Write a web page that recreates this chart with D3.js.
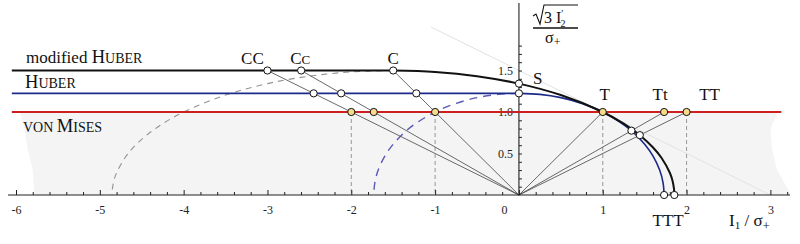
<!DOCTYPE html>
<html>
<head>
<meta charset="utf-8">
<script src="https://cdn.jsdelivr.net/npm/d3@7"></script>
<style>
  body { margin: 0; background: #fff; }
  svg { display: block; font-family: "Liberation Serif", "DejaVu Serif", serif; }
</style>
</head>
<body>
<div class="container"></div>
<script>
// ---- data ----
const xTickLabels = [-6, -5, -4, -3, -2, -1, 0, 1, 2, 3];
const yTickLabels = [0.5, 1.0, 1.5];

// horizontal criteria levels, sqrt(3 I2')/sigma+
const vonMisesLevel = 1.0;
const huberLevel = 1.2247;
const modHuberLevel = 1.5;

// tension branches (I1 > 0 side)
const modHuberCurve = [
  [-1.5, 1.5], [-1.0, 1.483], [-0.5, 1.432], [0, 1.342], [0.5, 1.204], [1.0, 1.0],
  [1.25, 0.859], [1.442, 0.721], [1.6, 0.573], [1.7, 0.449], [1.8, 0.268],
  [1.83, 0.18], [1.85, 0.074], [1.854, 0]
];
const huberCurve = [
  [0, 1.2247], [0.25, 1.212], [0.5, 1.173], [0.75, 1.104], [1.0, 1.0], [1.2, 0.883],
  [1.342, 0.775], [1.5, 0.612], [1.6, 0.469], [1.68, 0.298], [1.72, 0.144], [1.732, 0]
];

// rays from the origin: end points on the modified Huber line / von Mises line
const rayNames = ['CC', 'Cc', 'C', 'T', 'Tt', 'TT'];
const rayEnds = [[-3, 1.5], [-2.598, 1.5], [-1.5, 1.5], [1, 1], [1.732, 1], [2, 1]];

// marked points
const whitePoints = [
  [-3, 1.5], [-2.598, 1.5], [-1.5, 1.5], [0, 1.342], [0, 1.2247],
  [-2.449, 1.2247], [-2.121, 1.2247], [-1.2247, 1.2247],
  [1.342, 0.775], [1.442, 0.721], [1.732, 0], [1.854, 0]
];
const misesPoints = [[-2, 1], [-1.732, 1], [-1, 1], [1, 1], [1.732, 1], [2, 1]];
const dropLines = [-2, -1, 1, 2];

// ---- layout ----
const width = 800, height = 244;
const x = d3.scaleLinear().domain([-6, 3]).range([16, 770.4]);
const y = d3.scaleLinear().domain([0, 1.5]).range([195, 70.5]);

const svg = d3.select('.container')
  .append('svg')
  .attr('width', width)
  .attr('height', height);

const line = d3.line().x(d => x(d[0])).y(d => y(d[1]));
const smooth = d3.line().x(d => x(d[0])).y(d => y(d[1])).curve(d3.curveCatmullRom.alpha(0.5));

// light grey "paper" under the von Mises line, with ragged edges
const paperEdge = [
  [-5.95, 1.0], [-5.9, 0.8], [-5.86, 0.55], [-5.8, 0.3], [-5.78, 0],
  [3.25, 0], [3.08, 0.3], [3.02, 0.55], [3.0, 0.8], [3.09, 1.0]
];
svg.append('path')
  .attr('d', d3.line().x(d => x(d[0])).y(d => y(d[1])).curve(d3.curveLinearClosed)(paperEdge))
  .attr('fill', '#f4f4f4');

// faint guide line
svg.append('path')
  .attr('d', line([[-1.05, 2.025], [3, 0]]))
  .attr('stroke', '#e2e2e2').attr('stroke-width', 1).attr('fill', 'none');

// dashed drops from the von Mises line
svg.selectAll('.drop')
  .data(dropLines)
  .join('line')
  .attr('x1', d => x(d)).attr('x2', d => x(d))
  .attr('y1', y(vonMisesLevel)).attr('y2', y(0))
  .attr('stroke', '#8c8c8c').attr('stroke-width', 0.9)
  .attr('stroke-dasharray', '4,3');

// mirrored compression branches (dashed)
const modHuberMirror = modHuberCurve.map(d => [-3 - d[0], d[1]]);
const huberMirror = huberCurve.map(d => [-d[0], d[1]]);
svg.append('path')
  .attr('d', smooth(modHuberMirror))
  .attr('fill', 'none').attr('stroke', '#939393').attr('stroke-width', 1.1)
  .attr('stroke-dasharray', '6,5');
svg.append('path')
  .attr('d', smooth(huberMirror))
  .attr('fill', 'none').attr('stroke', '#5a5ab4').attr('stroke-width', 1.4)
  .attr('stroke-dasharray', '8,6');

// rays from the origin
svg.selectAll('.ray')
  .data(rayEnds)
  .join('line')
  .attr('x1', x(0)).attr('y1', y(0))
  .attr('x2', d => x(d[0])).attr('y2', d => y(d[1]))
  .attr('stroke', '#444').attr('stroke-width', 0.8);

// axes
const isInt = d => Math.abs(d - Math.round(d)) < 1e-6;
const xAxis = d3.axisBottom(x)
  .tickValues(d3.range(-30, 17).map(i => i / 5))
  .tickSize(-3)
  .tickPadding(10)
  .tickFormat(d => isInt(d) && xTickLabels.includes(Math.round(d)) ? String(Math.round(d)) : '');
const gx = svg.append('g').attr('transform', `translate(0,${y(0)})`).call(xAxis);
gx.select('.domain').remove();
gx.selectAll('.tick line')
  .attr('y2', d => isInt(d) ? -5 : -3)
  .attr('stroke', '#222');
gx.selectAll('.tick text')
  .attr('font-size', 12).attr('font-family', 'Liberation Serif').attr('fill', '#222')
  .attr('dx', d => Math.abs(d) < 1e-6 ? -15 : 0);
svg.append('line')
  .attr('x1', 8).attr('x2', 790).attr('y1', y(0)).attr('y2', y(0))
  .attr('stroke', '#222').attr('stroke-width', 1.2);

const yAxis = d3.axisLeft(y)
  .tickValues(d3.range(1, 19).map(i => i / 10))
  .tickSize(-3)
  .tickPadding(6)
  .tickFormat(d => yTickLabels.some(v => Math.abs(v - d) < 1e-6) ? d3.format('.1f')(d) : '');
const gy = svg.append('g').attr('transform', `translate(${x(0)},0)`).call(yAxis);
gy.select('.domain').remove();
gy.selectAll('.tick line').attr('stroke', '#222');
gy.selectAll('.tick text')
  .attr('font-size', 12).attr('font-family', 'Liberation Serif').attr('fill', '#222');
svg.append('line')
  .attr('x1', x(0)).attr('x2', x(0)).attr('y1', 3).attr('y2', y(0))
  .attr('stroke', '#222').attr('stroke-width', 1.1);

// criteria
svg.append('path')
  .attr('d', line([[-6.05, vonMisesLevel], [3.13, vonMisesLevel]]))
  .attr('stroke', '#cc1f1f').attr('stroke-width', 1.8).attr('fill', 'none');
svg.append('path')
  .attr('d', line([[-6.05, huberLevel], [0, huberLevel]]) + smooth(huberCurve).replace(/^M/, 'L'))
  .attr('stroke', '#1c2a8a').attr('stroke-width', 1.6).attr('fill', 'none');
svg.append('path')
  .attr('d', line([[-6.05, modHuberLevel], [-1.5, modHuberLevel]]) + smooth(modHuberCurve).replace(/^M/, 'L'))
  .attr('stroke', '#111').attr('stroke-width', 2).attr('fill', 'none');

// points
svg.selectAll('.pw')
  .data(whitePoints)
  .join('circle')
  .attr('cx', d => x(d[0])).attr('cy', d => y(d[1])).attr('r', 3.6)
  .attr('fill', '#fff').attr('stroke', '#111').attr('stroke-width', 1);
svg.selectAll('.py')
  .data(misesPoints)
  .join('circle')
  .attr('cx', d => x(d[0])).attr('cy', d => y(d[1])).attr('r', 3.6)
  .attr('fill', '#f8da8c').attr('stroke', '#111').attr('stroke-width', 1);

// point labels
const labelOffsets = { CC: [-15, -7], Cc: [-1, -7], C: [0, -7], T: [2, -12], Tt: [-4, -12], TT: [23, -12] };
rayNames.forEach((name, i) => {
  const [dx, dy] = labelOffsets[name];
  const t = svg.append('text')
    .attr('x', x(rayEnds[i][0]) + dx).attr('y', y(rayEnds[i][1]) + dy)
    .attr('text-anchor', 'middle').attr('font-size', 17).attr('fill', '#111');
  if (name === 'Cc') {
    t.append('tspan').text('C');
    t.append('tspan').attr('font-size', 13).text('C');
  } else {
    t.text(name);
  }
});
svg.append('text')
  .attr('x', x(0) + 14).attr('y', y(1.342))
  .attr('font-size', 17).attr('fill', '#111').text('S');
svg.append('text')
  .attr('x', 668).attr('y', 226)
  .attr('text-anchor', 'middle').attr('font-size', 17).attr('fill', '#111').text('TTT');

// criterion names (small caps)
function smallCaps(xp, yp, parts) {
  const t = svg.append('text').attr('x', xp).attr('y', yp).attr('fill', '#111');
  parts.forEach(p => t.append('tspan').attr('font-size', p[1]).text(p[0]));
}
smallCaps(26, 63, [['modified ', 17], ['H', 18.5], ['UBER', 14]]);
smallCaps(25, 88, [['H', 18.5], ['UBER', 14]]);
smallCaps(23, 132, [['VON ', 14], ['M', 18.5], ['ISES', 14]]);

// x axis label  I1 / sigma+
const xl = svg.append('text').attr('x', 729).attr('y', 226).attr('fill', '#111').attr('font-size', 17);
xl.append('tspan').text('I');
xl.append('tspan').attr('font-size', 11).attr('dy', 3).text('1');
xl.append('tspan').attr('dy', -3).text(' / σ');
xl.append('tspan').attr('font-size', 13).attr('dy', 4).text('+');

// y axis label  sqrt(3 I2') / sigma+
const yl = svg.append('g').attr('fill', '#111');
yl.append('path')
  .attr('d', 'M533,16 L536,14 L540,24 L544,5 L578,5')
  .attr('fill', 'none').attr('stroke', '#111').attr('stroke-width', 1.1);
const num = yl.append('text').attr('x', 544).attr('y', 23).attr('font-size', 16);
num.append('tspan').text('3 I');
num.append('tspan').attr('font-size', 10).attr('dy', -6).attr('dx', 0).text('′');
num.append('tspan').attr('font-size', 10).attr('dy', 10).attr('dx', -3).text('2');
yl.append('line')
  .attr('x1', 533).attr('x2', 578).attr('y1', 28).attr('y2', 28)
  .attr('stroke', '#111').attr('stroke-width', 1.3);
const den = yl.append('text').attr('x', 545).attr('y', 43).attr('font-size', 16);
den.append('tspan').text('σ');
den.append('tspan').attr('font-size', 12).attr('dy', 3).text('+');
</script>
</body>
</html>
